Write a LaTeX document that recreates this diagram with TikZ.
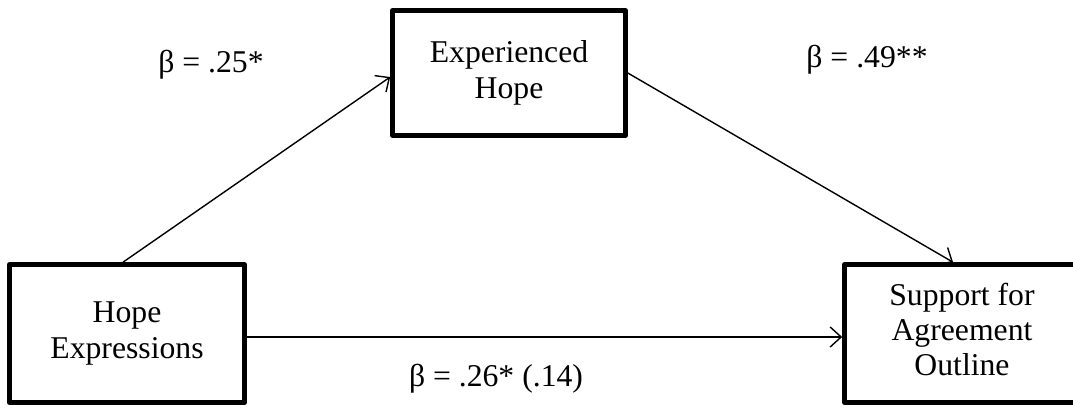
\documentclass[tikz,border=0pt]{standalone}
\usepackage{fontspec}
\setmainfont{Liberation Serif}
\usetikzlibrary{arrows.meta}
\begin{document}
\begin{tikzpicture}[x=1pt,y=1pt,
  varbox/.style={draw, line width=4.6pt, line join=round, inner sep=0pt,
    align=center, font=\fontsize{31.7}{36}\selectfont},
  conn/.style={line width=1.4pt, -{Straight Barb[length=11pt,width=20pt,line width=1.4pt]}},
  coef/.style={anchor=base, inner sep=0pt, font=\fontsize{31.7}{36}\selectfont}]
\useasboundingbox (0,0) rectangle (1073,409);
\node[varbox, minimum width=235pt, minimum height=138pt] (hope) at (127,75.5) {Hope\\Expressions};
\node[varbox, minimum width=233pt, minimum height=125pt] (exp) at (509,336) {Experienced\\Hope};
\node[draw, line width=4.6pt, line join=round, inner sep=0pt,
  font=\fontsize{31.7}{36}\selectfont, minimum width=265pt, minimum height=138pt] (sup) at (977,75.5)
  {{\renewcommand{\arraystretch}{0.97}\begin{tabular}{@{}c@{}}Support for\\Agreement\\Outline\end{tabular}}\hspace{30pt}\null};
\draw[conn] ([xshift=-4pt]hope.north) -- ([yshift=-4pt]exp.west);
\draw[conn] (exp.east) -- ([xshift=-24pt]sup.north);
\draw[conn] ([yshift=-3.5pt]hope.east) -- ([yshift=-3.5pt]sup.west);
\node[coef] (b1) at (211,336) {β = .25*};
\node[coef] (b2) at (867,341) {β = .49**};
\node[coef] (b3) at (496,22) {β = .26* (.14)};
\end{tikzpicture}
\end{document}
